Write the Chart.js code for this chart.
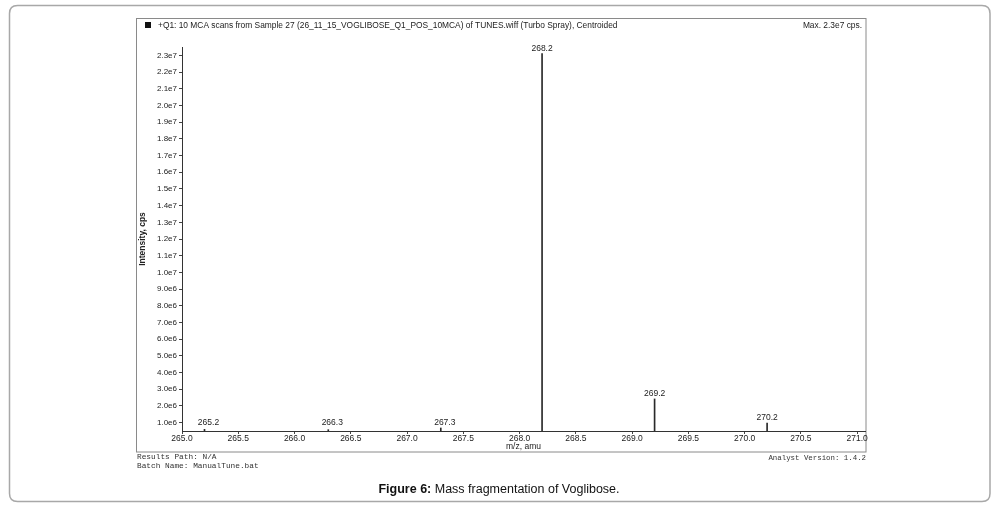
<!DOCTYPE html>
<html>
<head>
<meta charset="utf-8">
<script src="https://cdn.jsdelivr.net/npm/chart.js@4.4.1/dist/chart.umd.min.js"></script>
<style>
html,body{margin:0;padding:0;background:#fff;}
#wrap{width:998px;height:510px;position:relative;}
</style>
</head>
<body>
<div id="wrap"><canvas id="c" width="998" height="510"></canvas></div>
<script>
// ---- data ----
const peakMz = [265.2, 266.3, 267.3, 268.2, 269.2, 270.2];
const peakIntensity = [0.60e6, 0.58e6, 0.68e6, 2.31e7, 2.42e6, 0.98e6];
const peakLabels = ['265.2', '266.3', '267.3', '268.2', '269.2', '270.2'];
const xTickValues = [265.0, 265.5, 266.0, 266.5, 267.0, 267.5, 268.0, 268.5, 269.0, 269.5, 270.0, 270.5, 271.0];
const xTickLabels = ['265.0', '265.5', '266.0', '266.5', '267.0', '267.5', '268.0', '268.5', '269.0', '269.5', '270.0', '270.5', '271.0'];
const yTickValues = [1e6, 2e6, 3e6, 4e6, 5e6, 6e6, 7e6, 8e6, 9e6, 1e7, 1.1e7, 1.2e7, 1.3e7, 1.4e7, 1.5e7, 1.6e7, 1.7e7, 1.8e7, 1.9e7, 2.0e7, 2.1e7, 2.2e7, 2.3e7];
const yTickLabels = ['1.0e6', '2.0e6', '3.0e6', '4.0e6', '5.0e6', '6.0e6', '7.0e6', '8.0e6', '9.0e6', '1.0e7', '1.1e7', '1.2e7', '1.3e7', '1.4e7', '1.5e7', '1.6e7', '1.7e7', '1.8e7', '1.9e7', '2.0e7', '2.1e7', '2.2e7', '2.3e7'];
const headerText = '+Q1: 10 MCA scans from Sample 27 (26_11_15_VOGLIBOSE_Q1_POS_10MCA) of TUNES.wiff (Turbo Spray), Centroided';
const maxText = 'Max. 2.3e7 cps.';
const footerLeft = ['Results Path: N/A', 'Batch Name: ManualTune.bat'];
const footerRight = 'Analyst Version: 1.4.2';
const captionBold = 'Figure 6:';
const captionRest = ' Mass fragmentation of Voglibose.';

const SANS = '"Liberation Sans", Arial, sans-serif';
const MONO = '"Liberation Mono", "DejaVu Sans Mono", monospace';

function roundRect(ctx, x, y, w, h, r) {
  ctx.beginPath();
  ctx.moveTo(x + r, y);
  ctx.lineTo(x + w - r, y);
  ctx.quadraticCurveTo(x + w, y, x + w, y + r);
  ctx.lineTo(x + w, y + h - r);
  ctx.quadraticCurveTo(x + w, y + h, x + w - r, y + h);
  ctx.lineTo(x + r, y + h);
  ctx.quadraticCurveTo(x, y + h, x, y + h - r);
  ctx.lineTo(x, y + r);
  ctx.quadraticCurveTo(x, y, x + r, y);
  ctx.closePath();
}

const decor = {
  id: 'decor',
  beforeDraw(chart) {
    const ctx = chart.ctx;
    ctx.save();
    ctx.fillStyle = '#fff';
    ctx.fillRect(0, 0, chart.width, chart.height);
    ctx.strokeStyle = '#a8a8a8';
    ctx.lineWidth = 1.5;
    roundRect(ctx, 9.5, 5.5, 980.5, 496, 8);
    ctx.stroke();
    ctx.strokeStyle = '#8a8a8a';
    ctx.lineWidth = 1;
    ctx.strokeRect(136.5, 18.5, 729.5, 433.5);
    ctx.restore();
  },
  afterDraw(chart) {
    const ctx = chart.ctx;
    ctx.save();
    ctx.fillStyle = '#111';
    ctx.fillRect(145, 22, 6, 6);
    ctx.font = '8.4px ' + SANS;
    ctx.textBaseline = 'middle';
    ctx.textAlign = 'left';
    ctx.fillStyle = '#222';
    ctx.fillText(headerText, 158, 25.5);
    ctx.textAlign = 'right';
    ctx.fillText(maxText, 862, 25.5);
    const meta = chart.getDatasetMeta(0);
    ctx.font = '8.5px ' + SANS;
    ctx.textAlign = 'center';
    ctx.textBaseline = 'bottom';
    meta.data.forEach((el, i) => {
      const top = Math.min(el.y, chart.chartArea.bottom - 3);
      ctx.fillText(peakLabels[i], el.x + (i < 3 ? 4 : 0), top - 1);
    });
    ctx.font = '7.8px ' + MONO;
    ctx.textAlign = 'left';
    ctx.textBaseline = 'middle';
    ctx.fillStyle = '#333';
    ctx.fillText(footerLeft[0], 137, 457);
    ctx.fillText(footerLeft[1], 137, 466);
    ctx.font = '7.4px ' + MONO;
    ctx.textAlign = 'right';
    ctx.fillText(footerRight, 866, 458);
    ctx.fillStyle = '#111';
    ctx.textAlign = 'left';
    ctx.font = 'bold 12.5px ' + SANS;
    const wb = ctx.measureText(captionBold).width;
    ctx.font = '12.5px ' + SANS;
    const wr = ctx.measureText(captionRest).width;
    const x0 = 499 - (wb + wr) / 2;
    ctx.font = 'bold 12.5px ' + SANS;
    ctx.fillText(captionBold, x0, 490);
    ctx.font = '12.5px ' + SANS;
    ctx.fillText(captionRest, x0 + wb, 490);
    ctx.restore();
  }
};

new Chart(document.getElementById('c'), {
  type: 'bar',
  data: {
    datasets: [{
      data: peakMz.map((m, i) => ({ x: m, y: peakIntensity[i] })),
      backgroundColor: '#2a2a2a',
      borderWidth: 0,
      barThickness: 1
    }]
  },
  options: {
    responsive: false,
    animation: false,
    devicePixelRatio: 1,
    layout: { padding: { left: 136, right: 133, top: 47, bottom: 58 } },
    plugins: { legend: { display: false }, tooltip: { enabled: false } },
    scales: {
      x: {
        type: 'linear',
        offset: false,
        min: 265,
        max: 271.07,
        afterBuildTicks: (s) => { s.ticks = xTickValues.map(v => ({ value: v })); },
        afterFit: (s) => { s.height = 21; },
        grid: { display: true, offset: false, drawOnChartArea: false, drawTicks: true, tickLength: 3, color: '#444' },
        border: { display: true, color: '#333', width: 1 },
        ticks: {
          autoSkip: false, maxRotation: 0, padding: 0,
          color: '#222', font: { family: SANS, size: 8.5 },
          callback: (v, i) => xTickLabels[i]
        },
        title: { display: true, text: 'm/z, amu', color: '#222', font: { family: SANS, size: 8.5 }, padding: { top: 0, bottom: 0 } }
      },
      y: {
        type: 'linear',
        min: 0.5e6,
        max: 2.35e7,
        afterBuildTicks: (s) => { s.ticks = yTickValues.map(v => ({ value: v })); },
        afterFit: (s) => { s.width = 46; },
        grid: { display: true, drawOnChartArea: false, drawTicks: true, tickLength: 3, color: '#444' },
        border: { display: true, color: '#333', width: 1 },
        ticks: {
          autoSkip: false, padding: 2,
          color: '#222', font: { family: SANS, size: 8 },
          callback: (v, i) => yTickLabels[i]
        },
        title: { display: true, text: 'Intensity, cps', color: '#222', font: { family: SANS, size: 8.5, weight: 'bold' }, padding: { top: 2, bottom: 0 } }
      }
    }
  },
  plugins: [decor]
});
</script>
</body>
</html>
